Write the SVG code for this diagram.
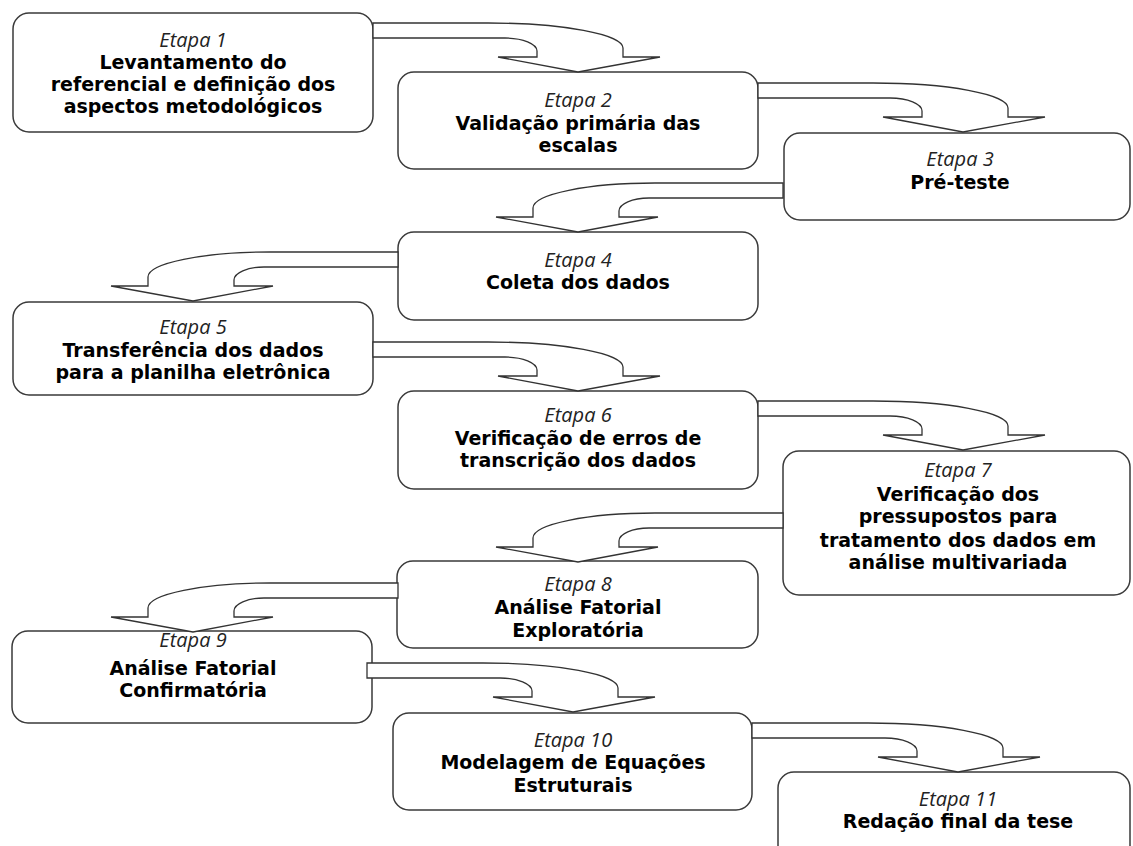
<svg xmlns="http://www.w3.org/2000/svg" width="1133" height="846" viewBox="0 0 1133 846">
<style>
.box{fill:#fff;stroke:#3a3a3a;stroke-width:1.5}
.arr{fill:#fff;stroke:#333;stroke-width:1.3;stroke-linejoin:miter}
.et{font-family:"Open Sans","DejaVu Sans",sans-serif;font-style:italic;font-size:20px;fill:#222;text-anchor:middle}
.bd{font-family:"DejaVu Sans",Verdana,sans-serif;font-weight:bold;font-size:19px;fill:#000;text-anchor:middle}
</style>
<rect width="1133" height="846" fill="#fff"/>
<g id="n1"><rect class="box" x="13" y="13" width="360" height="119" rx="16"/>
<text class="et" x="193" y="47">Etapa 1</text>
<text class="bd" x="193" y="69">Levantamento do</text>
<text class="bd" x="193" y="91">referencial e definição dos</text>
<text class="bd" x="193" y="113">aspectos metodológicos</text></g>
<g id="n2"><rect class="box" x="398" y="72" width="360" height="97" rx="16"/>
<text class="et" x="578" y="107">Etapa 2</text>
<text class="bd" x="578" y="130">Validação primária das</text>
<text class="bd" x="578" y="152">escalas</text></g>
<g id="n3"><rect class="box" x="784" y="133" width="346" height="87" rx="16"/>
<text class="et" x="960" y="166">Etapa 3</text>
<text class="bd" x="960" y="189">Pré-teste</text></g>
<g id="n4"><rect class="box" x="398" y="232" width="360" height="88" rx="16"/>
<text class="et" x="578" y="267">Etapa 4</text>
<text class="bd" x="578" y="289">Coleta dos dados</text></g>
<g id="n5"><rect class="box" x="13" y="302" width="360" height="93" rx="16"/>
<text class="et" x="193" y="334">Etapa 5</text>
<text class="bd" x="193" y="357">Transferência dos dados</text>
<text class="bd" x="193" y="379">para a planilha eletrônica</text></g>
<g id="n6"><rect class="box" x="398" y="391" width="360" height="98" rx="16"/>
<text class="et" x="578" y="422">Etapa 6</text>
<text class="bd" x="578" y="445">Verificação de erros de</text>
<text class="bd" x="578" y="467">transcrição dos dados</text></g>
<g id="n7"><rect class="box" x="783" y="451" width="347" height="144" rx="16"/>
<text class="et" x="958" y="477">Etapa 7</text>
<text class="bd" x="958" y="501">Verificação dos</text>
<text class="bd" x="958" y="523">pressupostos para</text>
<text class="bd" x="958" y="547">tratamento dos dados em</text>
<text class="bd" x="958" y="569">análise multivariada</text></g>
<g id="n8"><rect class="box" x="397" y="561" width="361" height="87" rx="16"/>
<text class="et" x="578" y="591">Etapa 8</text>
<text class="bd" x="578" y="614">Análise Fatorial</text>
<text class="bd" x="578" y="637">Exploratória</text></g>
<g id="n9"><rect class="box" x="12" y="631" width="360" height="92" rx="16"/>
<text class="et" x="193" y="647">Etapa 9</text>
<text class="bd" x="193" y="675">Análise Fatorial</text>
<text class="bd" x="193" y="697">Confirmatória</text></g>
<g id="n10"><rect class="box" x="393" y="713" width="359" height="97" rx="16"/>
<text class="et" x="573" y="747">Etapa 10</text>
<text class="bd" x="573" y="769">Modelagem de Equações</text>
<text class="bd" x="573" y="792">Estruturais</text></g>
<g id="n11"><rect class="box" x="778" y="772" width="352" height="100" rx="16"/>
<text class="et" x="958" y="806">Etapa 11</text>
<text class="bd" x="958" y="828">Redação final da tese</text></g>
<g id="connectors">
<path class="arr" d="M373,23 L488,23 A135,25 0 0 1 623,48 L623,57 L660,57 L578,72 L498,57 L537,57 L537,51 A32,13 0 0 0 505,38 L373,38 Z"/>
<path class="arr" d="M758,83 L873,83 A135,25 0 0 1 1008,108 L1008,117 L1045,117 L963,132 L883,117 L922,117 L922,111 A32,13 0 0 0 890,98 L758,98 Z"/>
<path class="arr" d="M783,183 L655,183 A122,25 0 0 0 533,208 L533,217 L496,217 L578,232 L658,217 L619,217 L619,211 A30,13 0 0 1 649,198 L783,198 Z"/>
<path class="arr" d="M398,252 L270,252 A122,25 0 0 0 148,277 L148,286 L111,286 L193,301 L273,286 L234,286 L234,280 A30,13 0 0 1 264,267 L398,267 Z"/>
<path class="arr" d="M373,342 L488,342 A135,25 0 0 1 623,367 L623,376 L660,376 L578,391 L498,376 L537,376 L537,370 A32,13 0 0 0 505,357 L373,357 Z"/>
<path class="arr" d="M758,401 L873,401 A135,25 0 0 1 1008,426 L1008,435 L1045,435 L963,450 L883,435 L922,435 L922,429 A32,13 0 0 0 890,416 L758,416 Z"/>
<path class="arr" d="M783,513 L655,513 A122,25 0 0 0 533,538 L533,547 L496,547 L578,562 L658,547 L619,547 L619,541 A30,13 0 0 1 649,528 L783,528 Z"/>
<path class="arr" d="M398,583 L270,583 A122,25 0 0 0 148,608 L148,617 L111,617 L193,632 L273,617 L234,617 L234,611 A30,13 0 0 1 264,598 L398,598 Z"/>
<path class="arr" d="M367,663 L483,663 A135,25 0 0 1 618,688 L618,697 L655,697 L573,712 L493,697 L532,697 L532,691 A32,13 0 0 0 500,678 L367,678 Z"/>
<path class="arr" d="M752,723 L868,723 A135,25 0 0 1 1003,748 L1003,757 L1040,757 L958,772 L878,757 L917,757 L917,751 A32,13 0 0 0 885,738 L752,738 Z"/>
</g>
</svg>
